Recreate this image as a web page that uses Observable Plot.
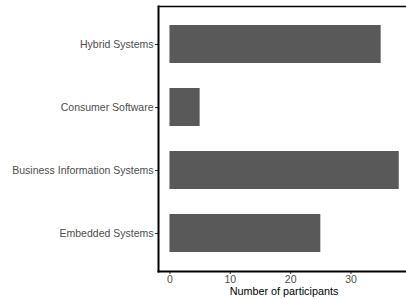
<!DOCTYPE html>
<html>
<head>
<meta charset="utf-8">
<script src="https://cdn.jsdelivr.net/npm/d3@7"></script>
<script src="https://cdn.jsdelivr.net/npm/@observablehq/plot@0.6"></script>
<style>
  html, body { margin: 0; padding: 0; background: #fff; }
  svg { display: block; }
</style>
</head>
<body>
<div id="chart"></div>
<script>
const categories = ["Hybrid Systems", "Consumer Software", "Business Information Systems", "Embedded Systems"];
const participants = [35, 5, 38, 25];
const xTicks = [0, 10, 20, 30];
const xTitle = "Number of participants";

const data = categories.map((c, i) => ({category: c, value: participants[i]}));

const plot = Plot.plot({
  width: 406,
  height: 299,
  marginLeft: 158,
  marginRight: 0,
  marginTop: 6,
  marginBottom: 28,
  style: {fontFamily: "Liberation Sans, Arial, sans-serif", background: "#fff"},
  x: {domain: [-1.9, 39.2], ticks: xTicks, label: null},
  y: {domain: categories, paddingInner: 0.4, paddingOuter: 0.3, label: null},
  marks: [
    Plot.barX(data, {x1: 0, x2: "value", y: "category", fill: "#595959"}),
    Plot.axisX({ticks: xTicks, tickSize: 3, tickPadding: 1, fontSize: 10.5, color: "#4d4d4d", stroke: "#333", label: null}),
    Plot.axisY({tickSize: 3, tickPadding: 2, fontSize: 10.5, color: "#4d4d4d", stroke: "#333", label: null}),
    Plot.frame({anchor: "left", stroke: "#000", strokeWidth: 2}),
    Plot.frame({anchor: "bottom", stroke: "#000", strokeWidth: 2}),
    Plot.frame({anchor: "top", stroke: "#000", strokeWidth: 1.5})
  ]
});
document.getElementById("chart").appendChild(plot);

// axis title centered under the panel
const xs = plot.scale("x");
const svg = d3.select(plot);
svg.append("text")
  .attr("x", 158 + (xs.range[1] - 158) / 2 + 2)
  .attr("y", 295)
  .attr("text-anchor", "middle")
  .attr("font-size", 10.8)
  .attr("font-family", "Liberation Sans, Arial, sans-serif")
  .attr("fill", "#000")
  .text(xTitle);
</script>
</body>
</html>
